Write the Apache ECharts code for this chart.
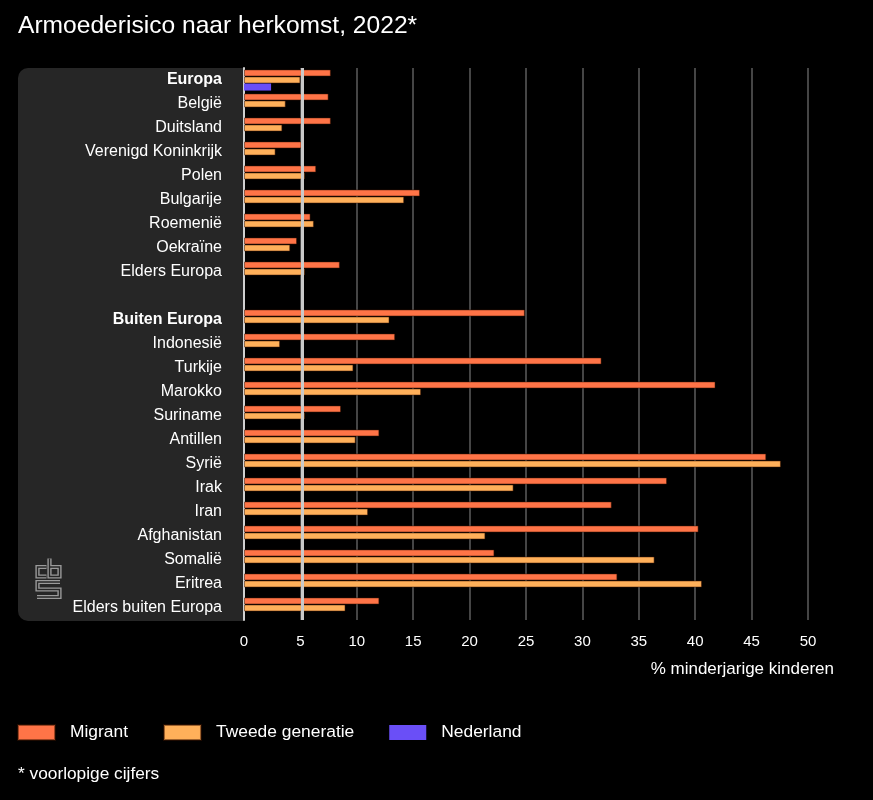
<!DOCTYPE html>
<html>
<head>
<meta charset="utf-8">
<script src="https://cdn.jsdelivr.net/npm/echarts@6/dist/echarts.min.js"></script>
<style>
html,body{margin:0;padding:0;background:#000;}
#c{width:873px;height:800px;}
</style>
</head>
<body>
<div id="c"></div>
<script>
const categories = ['Europa','België','Duitsland','Verenigd Koninkrijk','Polen','Bulgarije','Roemenië','Oekraïne','Elders Europa','',
  'Buiten Europa','Indonesië','Turkije','Marokko','Suriname','Antillen','Syrië','Irak','Iran','Afghanistan','Somalië','Eritrea','Elders buiten Europa'];
const boldCats = ['Europa','Buiten Europa'];
const migrant = [7.7,7.5,7.7,5.1,6.4,15.6,5.9,4.7,8.5,null,
  24.9,13.4,31.7,41.8,8.6,12.0,46.3,37.5,32.6,40.3,22.2,33.1,12.0];
const tweede = [5.0,3.7,3.4,2.8,5.4,14.2,6.2,4.1,5.4,null,
  12.9,3.2,9.7,15.7,5.4,9.9,47.6,23.9,11.0,21.4,36.4,40.6,9.0];
const nederland = [2.4,null,null,null,null,null,null,null,null,null,
  null,null,null,null,null,null,null,null,null,null,null,null,null];
const refValue = 5.15;
const xTicks = [0,5,10,15,20,25,30,35,40,45,50];

const FONT = '"Liberation Sans", Arial, sans-serif';
const chart = echarts.init(document.getElementById('c'), null, {renderer:'canvas'});

const logoStroke = (pts) => ([
  {type:'polyline', z:-5, shape:{points:pts}, style:{stroke:'#9a9a9a', lineWidth:4.2, fill:null}, silent:true},
  {type:'polyline', z:-4, shape:{points:pts}, style:{stroke:'#262626', lineWidth:1.4, fill:null}, silent:true}
]);

const barBorder = {borderColor:'rgba(60,20,0,0.5)', borderWidth:1};

chart.setOption({
  backgroundColor:'#000',
  textStyle:{fontFamily:FONT},
  animation:false,
  title:[
    {text:'Armoederisico naar herkomst, 2022*', left:16, top:14, padding:[0,0,0,2],
     textStyle:{color:'#fff', fontSize:24.6, fontWeight:'normal', fontFamily:FONT}},
    {text:'* voorlopige cijfers', left:18, top:766, padding:0,
     textStyle:{color:'#fff', fontSize:17.3, fontWeight:'normal', fontFamily:FONT}}
  ],
  legend:{
    left:17, top:724, padding:0, itemWidth:37, itemHeight:15, itemGap:35, icon:'rect',
    data:['Migrant','Tweede generatie','Nederland'],
    textStyle:{color:'#fff', fontSize:17.4, fontFamily:FONT, padding:[0,0,0,10]}
  },
  graphic:[
    {type:'rect', z:-10, shape:{x:18, y:68, width:226, height:553, r:[10,0,0,10]}, style:{fill:'#262626'}, silent:true},
    ...logoStroke([[46.5,567],[37.5,567],[37.5,576.5],[46.5,576.5]]),
    ...logoStroke([[49.5,558.5],[49.5,576.5],[59.5,576.5],[59.5,567],[49.5,567]]),
    ...logoStroke([[60,582],[37.5,582],[37.5,589.5],[59.5,589.5],[59.5,597],[37,597]]),
    {type:'text', right:873-834, top:661, style:{text:'% minderjarige kinderen', fill:'#fff', font:'17px '+FONT, textAlign:'right'}}
  ],
  grid:{left:244, right:65, top:68, bottom:180, containLabel:false},
  xAxis:{
    type:'value', min:0, max:50, interval:5,
    axisLine:{show:false}, axisTick:{show:false},
    axisLabel:{color:'#fff', fontSize:15, margin:14, fontFamily:FONT},
    splitLine:{show:true, lineStyle:{color:'#5c5c5c', width:1.5}}
  },
  yAxis:{
    type:'category', inverse:true, data:categories,
    axisLine:{show:true, lineStyle:{color:'#d0d0d0', width:2}},
    axisTick:{show:false},
    axisLabel:{
      color:'#fff', fontSize:16, margin:22, fontFamily:FONT, interval:0,
      formatter:(v)=> boldCats.includes(v) ? '{b|'+v+'}' : v,
      rich:{b:{fontWeight:'bold', color:'#fff', fontSize:16, fontFamily:FONT}}
    },
    splitLine:{show:false}
  },
  series:[
    {name:'Migrant', type:'bar', data:migrant, barGap:'0%', barCategoryGap:'12%',
     itemStyle:Object.assign({color:'#ff7447'}, barBorder),
     markLine:{silent:true, symbol:'none', z:10, label:{show:false},
       lineStyle:{color:'#c9c9c9', width:3, type:'solid'},
       data:[{xAxis:refValue}]}},
    {name:'Tweede generatie', type:'bar', data:tweede, barGap:'0%', barCategoryGap:'12%',
     itemStyle:Object.assign({color:'#ffb05a'}, barBorder)},
    {name:'Nederland', type:'bar', data:nederland, barGap:'0%', barCategoryGap:'12%',
     itemStyle:{color:'#6a4ff7'}}
  ]
});
</script>
</body>
</html>
